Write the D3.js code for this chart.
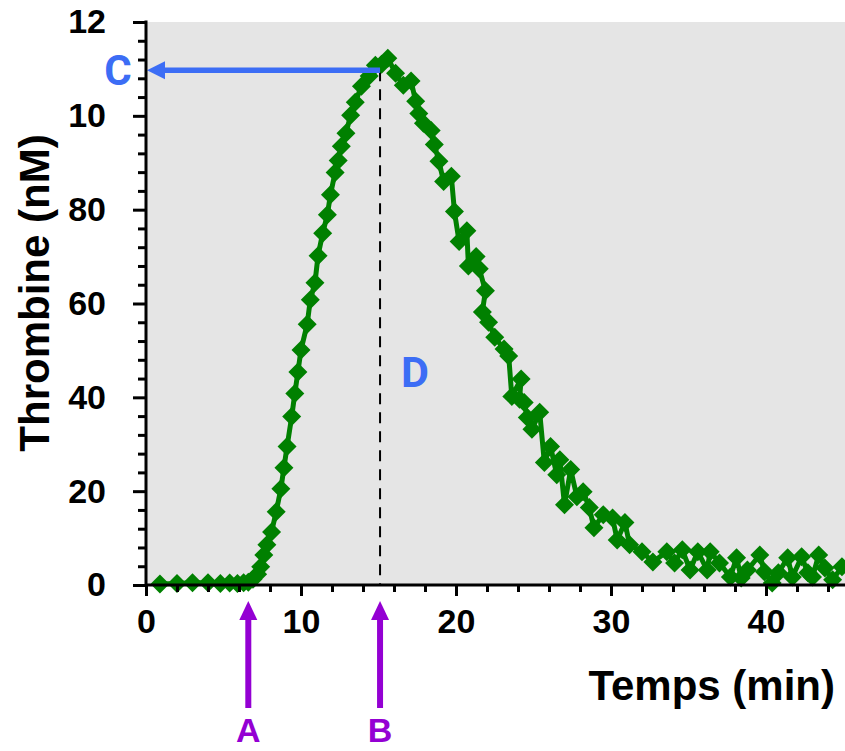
<!DOCTYPE html>
<html><head><meta charset="utf-8">
<script src="https://cdn.jsdelivr.net/npm/d3@7"></script>
<style>
html,body{margin:0;padding:0;background:#fff;}
svg{display:block;font-family:"Liberation Sans",Arial,sans-serif;}
</style></head>
<body><svg id="c" width="845" height="751"></svg>
<script>
const timeMin = [0.9,2.0,3.0,4.0,4.8,5.4,5.9,6.3,6.6,6.9,7.2,
7.4,7.6,7.8,8.1,8.4,8.7,8.9,9.1,9.4,9.6,9.8,10.0,10.4,10.6,10.9,11.1,11.4,11.7,11.9,12.2,12.4,12.6,12.9,13.2,13.5,13.9,14.4,14.8,15.2,15.6,
16.1,16.6,17.1,17.4,17.6,17.9,18.4,18.6,18.9,19.2,19.7,19.9,20.2,20.7,20.8,21.3,21.5,21.9,21.7,22.1,22.5,23.1,23.4,23.6,24.2,24.1,24.4,24.6,24.9,25.4,25.7,26.1,26.5,26.7,27.0,27.4,27.8,28.2,28.6,28.9,29.5,30.1,30.4,30.9,31.2,32.0,32.7,33.6,34.1,34.6,35.1,35.6,36.2,36.4,37.0,37.7,38.1,38.4,38.8,39.6,39.9,40.4,40.8,41.4,41.7,42.3,42.7,43.0,43.4,43.8,44.3,44.9];
const thrombinNM = [0.2,0.3,0.5,0.5,0.3,0.4,0.3,0.5,0.6,1.2,2.3,
3.9,6.4,8.6,11.3,15.6,20.5,25,29.5,35.9,40.8,45.4,50.1,55.6,60.8,64.4,70.2,75,78.9,83.2,87.9,90.5,93.5,96.3,100.1,102.9,106.3,108.5,110.8,111,112.3,
109.1,106.5,107.4,103.1,100.5,98.4,96.9,93.9,90.3,86,87.1,79.6,73.2,75.5,68,70,67.4,62.7,58.2,56,52.8,50.3,48.8,40.2,43.9,39.6,38.9,35.7,33.2,36.8,26.1,29.5,23.5,26.7,17.1,24.6,18.8,19.9,16.5,12.2,15,14.3,9.6,13.3,8.6,7.1,4.9,7.1,4.7,7.5,3.2,7.1,3.2,7.1,4.7,1.7,5.8,1.5,3.2,6.4,2.8,0.4,2.6,5.8,1.7,6,2.6,1.7,6.4,3.6,1.1,3.9];

const xTickValues = [0,10,20,30,40];
const xTickLabels = ["0","10","20","30","40"];
const yTickValues = [0,20,40,60,80,100,120];
const yTickLabels = ["0","20","40","60","80","10","12"];
const xTitle = "Temps (min)";
const yTitle = "Thrombine (nM)";
const peakTime = 15.1;      // B / D
const peakValue = 109.7;    // C
const lagTime = 6.6;        // A

const svg = d3.select("#c");
const x = d3.scaleLinear().domain([0,45]).range([146,843.5]);
const y = d3.scaleLinear().domain([0,120]).range([585,22]);

svg.append("rect").attr("x",x(0)).attr("y",y(120)).attr("width",x(45)-x(0)+2).attr("height",y(0)-y(120)).attr("fill","#e5e5e5");

svg.append("line").attr("x1",x(peakTime)).attr("x2",x(peakTime)).attr("y1",y(peakValue)).attr("y2",y(0))
  .attr("stroke","#000").attr("stroke-width",2).attr("stroke-dasharray","11,8");

const pts = timeMin.map((t,i)=>[t,thrombinNM[i]]);
svg.append("path").datum(pts).attr("fill","none").attr("stroke","#008000").attr("stroke-width",5)
  .attr("stroke-linejoin","round").attr("d",d3.line().x(d=>x(d[0])).y(d=>y(d[1])));
const r = 9.5;
svg.append("g").selectAll("path").data(pts).join("path")
  .attr("transform",d=>`translate(${x(d[0])},${y(d[1])})`)
  .attr("d",`M0,${-r}L${r},0L0,${r}L${-r},0Z`).attr("fill","#008000");

const blue = "#3c6df5";
svg.append("line").attr("x1",x(peakTime)).attr("x2",x(0)+16).attr("y1",y(peakValue)).attr("y2",y(peakValue))
  .attr("stroke",blue).attr("stroke-width",5.5);
svg.append("path").attr("d",`M${x(0)+1},${y(peakValue)}L${x(0)+19},${y(peakValue)-9}L${x(0)+19},${y(peakValue)+9}Z`).attr("fill",blue);

const yMinor = d3.range(0,121,4).filter(v=>v%20!==0);
const xMinor = d3.range(0,45,2).filter(v=>v%10!==0);
const gy = svg.append("g").attr("transform",`translate(${x(0)},0)`)
  .call(d3.axisLeft(y).tickValues(yMinor).tickSize(8).tickFormat(""));
const gy2 = svg.append("g").attr("transform",`translate(${x(0)},0)`)
  .call(d3.axisLeft(y).tickValues(yTickValues).tickSize(13).tickPadding(27).tickFormat((d,i)=>yTickLabels[i]));
const gx = svg.append("g").attr("transform",`translate(0,${y(0)})`)
  .call(d3.axisBottom(x).tickValues(xMinor).tickSize(7).tickFormat(""));
const gx2 = svg.append("g").attr("transform",`translate(0,${y(0)})`)
  .call(d3.axisBottom(x).tickValues(xTickValues).tickSize(11).tickPadding(13).tickFormat((d,i)=>xTickLabels[i]));
[gy,gy2,gx,gx2].forEach(g=>{
  g.selectAll(".domain").remove();
  g.selectAll(".tick line").attr("stroke","#000").attr("stroke-width",3);
  g.selectAll(".tick text").attr("fill","#000").style("font-size","34px").style("font-weight","bold")
   .style("font-family","'Liberation Sans',Arial,sans-serif");
});
svg.append("line").attr("x1",x(0)).attr("x2",x(0)).attr("y1",y(120)-1.5).attr("y2",y(0)+1.5).attr("stroke","#000").attr("stroke-width",3);
svg.append("line").attr("x1",x(0)).attr("x2",845).attr("y1",y(0)).attr("y2",y(0)).attr("stroke","#000").attr("stroke-width",3);

svg.append("text").attr("x",835).attr("y",700).attr("text-anchor","end")
  .style("font-size","42px").style("font-weight","bold").text(xTitle);
svg.append("text").attr("transform","translate(49,293) rotate(-90)").attr("text-anchor","middle")
  .style("font-size","42px").style("font-weight","bold").text(yTitle);

svg.append("text").attr("x",118).attr("y",y(peakValue)+15).attr("text-anchor","middle").attr("fill",blue)
  .style("font-size","42px").style("font-weight","bold").style("font-family","Roboto,'Liberation Sans',sans-serif").text("C");
svg.append("text").attr("x",415).attr("y",387).attr("text-anchor","middle").attr("fill",blue)
  .style("font-size","43px").style("font-weight","bold").style("font-family","Roboto,'Liberation Sans',sans-serif").text("D");

const purple = "#9400d3";
[[lagTime,"A"],[peakTime,"B"]].forEach(([t,lab])=>{
  const cx = x(t);
  svg.append("line").attr("x1",cx).attr("x2",cx).attr("y1",708).attr("y2",616).attr("stroke",purple).attr("stroke-width",6);
  svg.append("path").attr("d",`M${cx},601L${cx+9},620L${cx-9},620Z`).attr("fill",purple);
  svg.append("text").attr("x",cx).attr("y",742).attr("text-anchor","middle").attr("fill",purple)
    .style("font-size","34px").style("font-weight","bold").text(lab);
});
</script></body></html>
